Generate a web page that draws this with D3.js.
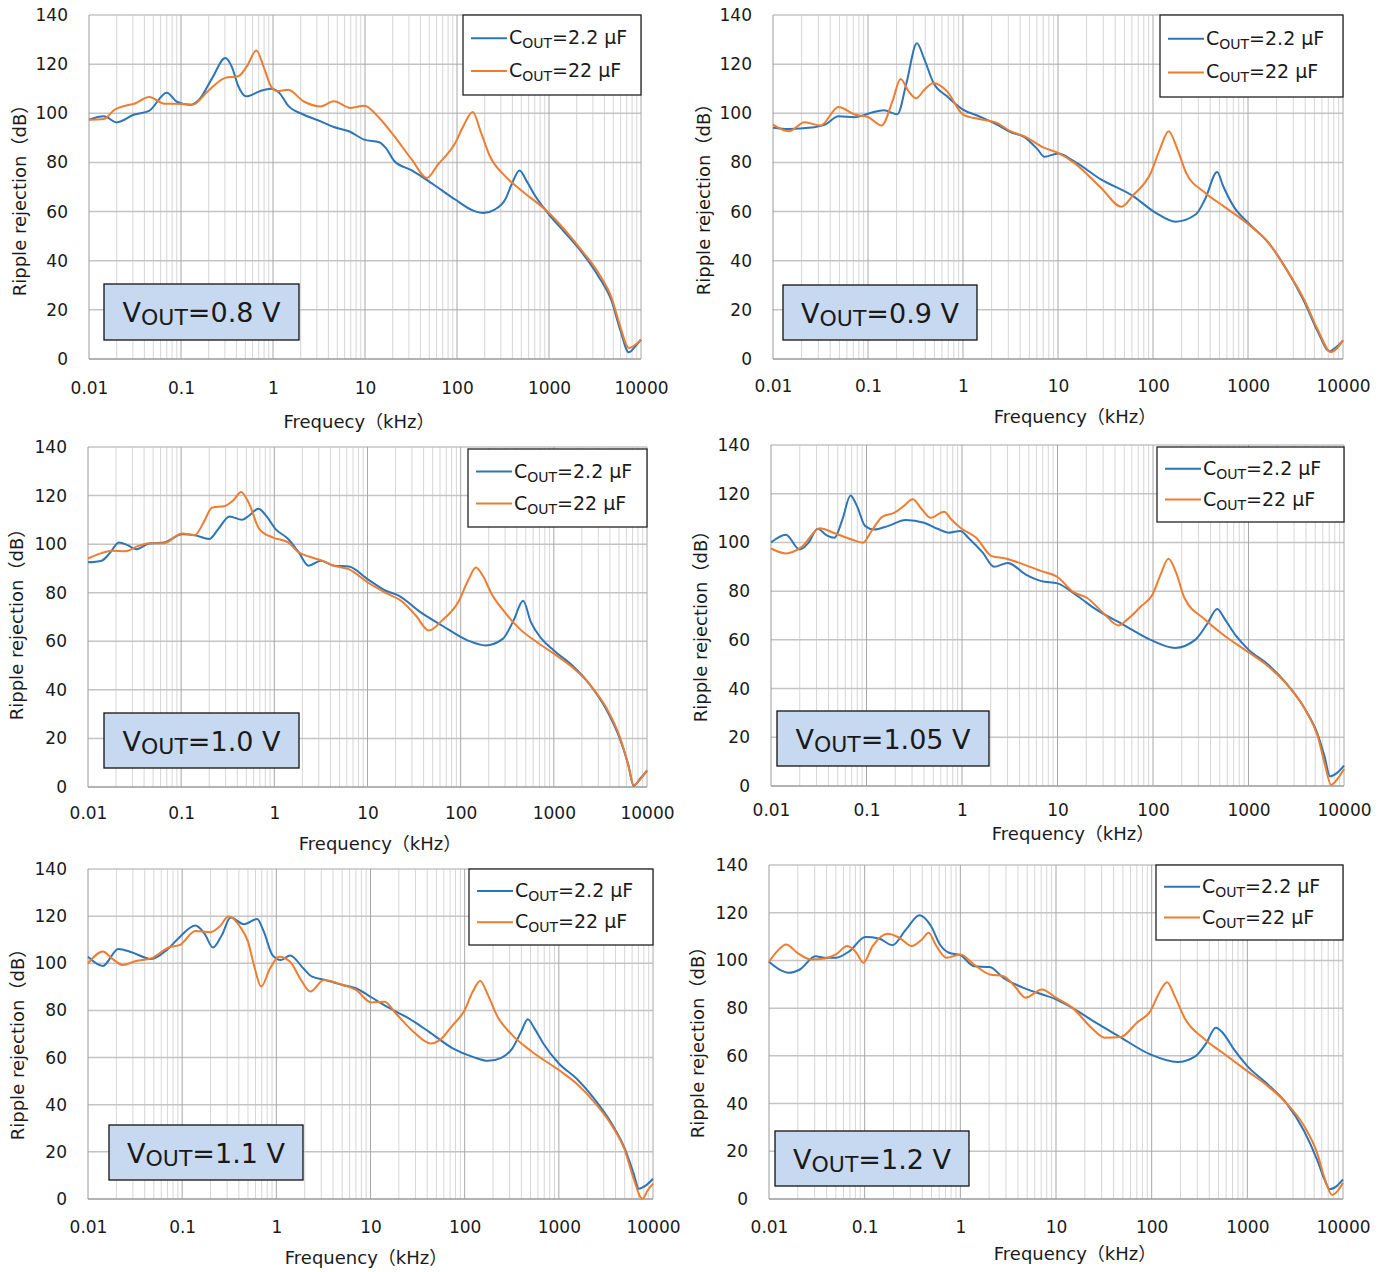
<!DOCTYPE html>
<html>
<head>
<meta charset="utf-8">
<script src="https://cdn.jsdelivr.net/npm/d3@7"></script>
<style>
  body { margin: 0; background: #fff; }
  svg text { font-family: "DejaVu Sans", Verdana, "Noto Sans CJK JP", sans-serif; fill: #1a1a1a; }
</style>
</head>
<body>
<svg width="1390" height="1272"></svg>
<script>
// tick labels
let xTickValues = [0.01, 0.1, 1, 10, 100, 1000, 10000];
let xTickLabels = ['0.01', '0.1', '1', '10', '100', '1000', '10000'];
let yTickValues = [0, 20, 40, 60, 80, 100, 120, 140];
let seriesNames = ['2.2 μF', '22 μF'];

// [frequency kHz, dB]
let v080Blue = [[0.01,97.4],[0.0145,98.8],[0.02,96.3],[0.031,99.5],[0.045,101],[0.07,108.4],[0.091,104.6],[0.127,103.4],[0.158,105.6],[0.219,114.4],[0.303,122.5],[0.356,119],[0.42,111],[0.51,106.9],[0.72,109],[0.95,110],[1.17,108.3],[1.46,103.1],[2.14,99.5],[3.3,96.7],[4.57,94.4],[6.7,92.7],[9.8,89.3],[14.3,88.2],[16.8,85.9],[20.9,80.5],[32.3,76.8],[55.6,71],[95.6,64.9],[148,60.5],[194,59.4],[256,60.8],[334,64.9],[392,71],[478,76.7],[574,72.3],[712,66.2],[1000,58.8],[1446,52],[2230,43.8],[3450,33.6],[4800,23.5],[5940,11.9],[7380,2.7],[8680,5.2],[10000,7.9]];
let v080Orange = [[0.01,97.4],[0.0145,97.7],[0.019,101.5],[0.0249,103.1],[0.031,103.9],[0.045,106.6],[0.066,103.9],[0.102,103.8],[0.134,103.5],[0.196,109],[0.303,114.4],[0.42,115.1],[0.52,119.1],[0.66,125.6],[0.8,118.4],[0.95,111],[1.11,109],[1.46,109.6],[2.14,104.9],[3.3,102.8],[4.57,104.9],[7,102.2],[9.8,103.1],[14.3,98.1],[20.9,90.6],[32.3,81.1],[47,73.7],[62,79.1],[95.6,87.9],[117,94.7],[148,100.5],[183,92],[228,82.5],[334,74.4],[490,68.9],[1000,59.4],[2230,44.5],[3450,35],[4800,24.8],[5940,13.3],[7380,4.5],[8680,5.8],[10000,7.9]];

let v090Blue = [[0.01,94.1],[0.0147,93.6],[0.0254,94.2],[0.0353,95.4],[0.049,98.8],[0.072,98.4],[0.106,100.1],[0.147,101.2],[0.204,99.6],[0.254,112.3],[0.327,128.5],[0.393,121.8],[0.49,112.3],[0.68,106.9],[1,101.5],[1.47,98.8],[2.28,95.4],[3.16,92.3],[4.4,90.4],[6.1,85.3],[7.2,82.3],[10,83.6],[14.7,80.5],[28.3,73.1],[61,66.4],[106,59.6],[173,55.9],[283,58.9],[353,65],[474,76.1],[547,70.4],[719,61.6],[1000,55.5],[1637,47.4],[2530,36.6],[3940,23.1],[5470,10.9],[7200,3.2],[8510,4.9],[10000,7.6]];
let v090Orange = [[0.01,95.4],[0.0147,92.7],[0.0215,96.4],[0.0316,95],[0.049,102.6],[0.072,99.5],[0.1,98.5],[0.139,95],[0.183,105.5],[0.22,114],[0.268,108.9],[0.32,106.1],[0.393,109.6],[0.49,112.3],[0.68,108.9],[1,99.5],[1.47,97.7],[2.28,96.1],[3.16,92.7],[4.4,90.7],[7.2,85.9],[10,83.9],[14.7,79.9],[28.3,69.7],[46.6,62],[61,66.4],[95,75.8],[118,85.3],[146,92.7],[181,85.3],[223,75.8],[353,67.7],[547,62.3],[1000,54.9],[1637,47.4],[2530,36.6],[3940,23.8],[5470,11.6],[7480,2.8],[10000,7.6]];

let v100Blue = [[0.01,92.5],[0.014,93.2],[0.0174,96.6],[0.0214,100.7],[0.0266,99.6],[0.0329,97.9],[0.0453,100.3],[0.066,100.7],[0.102,104.1],[0.14,103.7],[0.2,102.1],[0.25,106.2],[0.33,111.4],[0.45,110],[0.53,111.6],[0.675,114.6],[0.82,111.6],[1.02,106.4],[1.41,102.1],[1.83,96.6],[2.33,91.1],[3.16,93.2],[4.37,91.1],[6.3,90.8],[10,85.6],[15.7,80.8],[21.6,78.8],[36.9,72],[63,66.5],[120,60.3],[184,58.3],[283,61],[369,68.5],[468,76.7],[567,67.9],[741,61],[1000,56.2],[1568,50.1],[2400,42.5],[3700,31.6],[5100,20],[6310,9],[7180,0.5],[8520,3.6],[10000,6.6]];
let v100Orange = [[0.01,94.1],[0.014,96.3],[0.0182,97.3],[0.0251,97.1],[0.0347,99.3],[0.0453,100.4],[0.066,100.4],[0.102,104.4],[0.14,103.7],[0.174,108.9],[0.214,115],[0.295,115.7],[0.366,118.2],[0.44,121.5],[0.53,117.1],[0.69,106.2],[0.97,102.7],[1.41,100.7],[1.83,96.6],[2.4,94.8],[3.16,93.4],[4.37,91.1],[6.3,89.7],[10,84.3],[15.7,79.9],[24,76.1],[33,70.6],[45.5,64.4],[63,68.5],[96,76.7],[120,85],[146,90.4],[173,87],[215,79.5],[297,72],[430,65.1],[660,59.6],[1000,54.9],[1568,49.4],[2400,42.5],[3700,32.3],[5100,20.7],[6310,9],[7180,0.8],[8520,3.3],[10000,7]];

let v105Blue = [[0.01,100],[0.0143,103.2],[0.0199,97.1],[0.0247,99.9],[0.0308,105.6],[0.0383,102.9],[0.0461,101.9],[0.056,109.5],[0.068,119.3],[0.0795,114.9],[0.097,106.7],[0.12,105.3],[0.167,106.7],[0.258,109.2],[0.4,108.1],[0.554,105.6],[0.73,104],[0.96,104.7],[1.19,101.5],[1.65,95.8],[2.17,90],[3.01,91.6],[4.66,86.8],[6.8,84.1],[10,83.2],[16.3,77.9],[25.3,72.5],[48.7,66.3],[93.4,60.1],[170,56.7],[278,60.1],[366,66.3],[471,72.7],[567,68.4],[744,61.5],[1000,56],[1600,49.9],[2470,42.3],[3830,32.1],[5310,21.1],[6250,12.2],[7130,4],[8400,5.3],[10000,8.4]];
let v105Orange = [[0.01,97.5],[0.0143,95.5],[0.021,98.2],[0.0325,105.8],[0.045,104],[0.07,101.2],[0.092,99.9],[0.113,104.7],[0.146,110.5],[0.197,112.2],[0.245,114.9],[0.305,117.7],[0.38,113.6],[0.47,110.1],[0.65,112.6],[0.77,109.5],[0.96,106],[1.41,101.9],[2.05,94.4],[2.86,93.4],[4.4,91],[6.8,88.2],[10,85.8],[14.7,79.6],[20.3,77.3],[30,71.1],[43.6,65.9],[54,68.4],[75,73.8],[99,78.6],[120,86.8],[145,93.3],[175,87.5],[213,77.3],[350,68.4],[540,62.2],[1000,54.9],[1600,49.2],[2470,42.1],[3830,32.1],[5310,20.4],[6250,9.5],[7320,0.5],[8700,3.3],[10000,7]];

let v110Blue = [[0.01,102.8],[0.0144,98.9],[0.021,106.1],[0.029,104.7],[0.047,101.8],[0.0688,105.7],[0.095,111.3],[0.138,116],[0.172,112.7],[0.213,106.7],[0.264,112],[0.327,119.4],[0.453,116.6],[0.625,118.8],[0.735,113.5],[0.91,103.5],[1.12,101.4],[1.4,103.3],[1.93,97.9],[2.4,94.3],[3.31,92.9],[5.08,90.8],[7,89.4],[10,85.8],[14.9,81.6],[25.5,76.6],[41.6,71],[74.8,63.9],[122,60.3],[177,58.6],[245,59.9],[321,63.9],[398,71],[468,76.3],[550,72.4],[684,66],[1000,57.5],[1540,51.1],[2370,42.6],[3640,32],[5020,21.4],[6230,10.8],[7080,4.4],[8420,5.8],[10000,8.6]];
let v110Orange = [[0.01,100],[0.0144,105],[0.0179,102.1],[0.0234,99.3],[0.0323,101],[0.047,102.1],[0.072,106.7],[0.095,107.8],[0.138,113.7],[0.2,113.2],[0.25,115.6],[0.31,119.8],[0.41,115.6],[0.5,109.2],[0.59,97.9],[0.69,90.1],[0.86,97.9],[1.07,102.8],[1.4,100.7],[1.83,92.9],[2.3,88],[3.19,92.9],[5.08,90.8],[7,88.7],[10.2,83.4],[14.1,83.7],[18.5,78.8],[28.5,71],[43.7,66],[54.5,67.4],[74.8,73.8],[98,79.5],[122,88],[146,92.5],[177,86.5],[219,78],[321,69.5],[518,62.5],[1000,54.7],[1540,49],[2370,41.2],[3640,31.3],[5020,20.7],[6230,8.6],[7700,0.1],[8800,3.7],[10000,6.5]];

let v120Blue = [[0.01,99.4],[0.0128,96.2],[0.016,94.8],[0.021,96.2],[0.0307,101.8],[0.038,101.1],[0.05,101.1],[0.0695,103.9],[0.1016,109.8],[0.141,109.2],[0.195,106.4],[0.271,113],[0.375,118.9],[0.493,114.4],[0.612,106.7],[0.762,103.2],[1,102.2],[1.39,97.6],[2.03,97.2],[2.82,92.7],[4.59,88.5],[7.1,85.8],[10,83.7],[15.1,79.9],[26.1,73.9],[45,68.3],[96.8,60.6],[186,57.4],[288,59.9],[365,64.8],[469,71.8],[552,69.7],[725,62.7],[1000,55.7],[1640,48],[2530,40.4],[3920,28.5],[5430,15.9],[6400,8.2],[7290,4.1],[8590,5.4],[10000,8.2]];
let v120Orange = [[0.01,99.4],[0.0122,103.9],[0.0151,106.7],[0.0198,103.2],[0.0275,100.4],[0.038,100.8],[0.05,102.5],[0.0658,106],[0.082,103.2],[0.097,99],[0.121,106],[0.175,111.2],[0.23,109.5],[0.31,106],[0.397,108.8],[0.467,111.6],[0.55,106.7],[0.72,101.1],[1,102.5],[1.39,98.3],[2.03,94.1],[2.82,93.4],[3.7,89.2],[4.8,84.4],[7.1,87.8],[10,84.4],[15.1,79.9],[23.4,71.8],[32.5,67.6],[47.6,67.9],[70,73.9],[97,78.8],[120,86.5],[145,90.9],[177,84.4],[220,76],[360,66.9],[552,61.3],[1000,53.6],[1640,47.3],[2530,40.4],[3920,30.6],[5430,18.7],[6400,8.9],[7700,1.7],[8800,3.4],[10000,6.8]];

// panel layout
let panels = [
  { vout: '0.8', blue: v080Blue, orange: v080Orange, xTitle: 'Frequecy（kHz）',
    l: 89, r: 641, t: 15, b: 359, leg: [463, 15, 641, 95], box: [104, 284, 299, 340],
    xt: 422, xc: 359, yt: 20, yc: 196, xl: 388 },
  { vout: '0.9', blue: v090Blue, orange: v090Orange, xTitle: 'Frequency（kHz）',
    l: 773, r: 1343, t: 15, b: 359, leg: [1160, 15, 1343, 97], box: [783, 285, 977, 340],
    xt: 417, xc: 1075, yt: 704, yc: 195, xl: 386 },
  { vout: '1.0', blue: v100Blue, orange: v100Orange, xTitle: 'Frequency（kHz）',
    l: 88, r: 647, t: 447, b: 787, leg: [468, 449, 647, 527], box: [104, 713, 299, 768],
    xt: 844, xc: 380, yt: 17, yc: 620, xl: 813 },
  { vout: '1.05', blue: v105Blue, orange: v105Orange, xTitle: 'Frequency（kHz）',
    l: 771, r: 1344, t: 445, b: 786, leg: [1157, 447, 1344, 522], box: [777, 711, 989, 766],
    xt: 834, xc: 1073, yt: 701, yc: 622, xl: 810 },
  { vout: '1.1', blue: v110Blue, orange: v110Orange, xTitle: 'Frequency（kHz）',
    l: 88, r: 653, t: 869, b: 1199, leg: [469, 869, 653, 945], box: [109, 1125, 303, 1180],
    xt: 1258, xc: 366, yt: 18, yc: 1040, xl: 1227 },
  { vout: '1.2', blue: v120Blue, orange: v120Orange, xTitle: 'Frequency（kHz）',
    l: 769, r: 1343, t: 865, b: 1199, leg: [1156, 865, 1343, 940], box: [775, 1131, 969, 1186],
    xt: 1254, xc: 1075, yt: 698, yc: 1038, xl: 1227 }
];

let colors = ['#2E75B6', '#ED7D31'];
let svg = d3.select('svg');

panels.forEach((p) => {
  let x = d3.scaleLog().domain([0.01, 10000]).range([p.l, p.r]);
  let y = d3.scaleLinear().domain([0, 140]).range([p.b, p.t]);
  let g = svg.append('g');

  // vertical grid: minor then decades
  let minor = x.ticks().filter((d) => !xTickValues.some((v) => Math.abs(v - d) / v < 1e-6));
  g.selectAll('.minor').data(minor).enter().append('line')
      .attr('x1', (d) => x(d)).attr('x2', (d) => x(d))
      .attr('y1', p.t).attr('y2', p.b)
      .attr('stroke', '#d6d6d6').attr('stroke-width', 1);
  g.selectAll('.hgrid').data(yTickValues).enter().append('line')
      .attr('x1', p.l).attr('x2', p.r)
      .attr('y1', (d) => y(d)).attr('y2', (d) => y(d))
      .attr('stroke', (d) => d === 0 ? '#9a9a9a' : '#c4c4c4').attr('stroke-width', 1.5);
  g.selectAll('.major').data(xTickValues).enter().append('line')
      .attr('x1', (d) => x(d)).attr('x2', (d) => x(d))
      .attr('y1', p.t).attr('y2', p.b)
      .attr('stroke', (d) => d === 0.01 ? '#9a9a9a' : '#a8a8a8').attr('stroke-width', 1);

  // axes labels
  let xAxis = d3.axisBottom(x).tickValues(xTickValues).tickSize(0)
      .tickFormat((d, i) => xTickLabels[i]);
  g.append('g').attr('transform', `translate(0, ${p.xl - 9})`).call(xAxis)
      .call((a) => a.select('.domain').remove())
      .selectAll('text').style('font-size', '17px').style('fill', '#1a1a1a');
  let yAxis = d3.axisLeft(y).tickValues(yTickValues).tickSize(0);
  g.append('g').attr('transform', `translate(${p.l - 18}, 0)`).call(yAxis)
      .call((a) => a.select('.domain').remove())
      .selectAll('text').style('font-size', '17px').style('fill', '#1a1a1a');

  g.append('text')
      .attr('x', p.xc).attr('y', p.xt + 6)
      .attr('text-anchor', 'middle').style('font-size', '18px')
      .text(p.xTitle);
  g.append('text')
      .attr('transform', `translate(${p.yt + 6}, ${p.yc}) rotate(-90)`)
      .attr('text-anchor', 'middle').style('font-size', '18px')
      .text('Ripple rejection（dB）');

  // curves
  let line = d3.line()
      .x((d) => x(d[0]))
      .y((d) => y(d[1]))
      .curve(d3.curveMonotoneX);
  [p.blue, p.orange].forEach((s, i) => {
    g.append('path').datum(s)
        .attr('d', line)
        .attr('fill', 'none')
        .attr('stroke', colors[i])
        .attr('stroke-width', 2);
  });

  // legend
  let [lx0, ly0, lx1, ly1] = p.leg;
  let lh = ly1 - ly0;
  g.append('rect').attr('x', lx0).attr('y', ly0)
      .attr('width', lx1 - lx0).attr('height', lh)
      .attr('fill', '#fff').attr('stroke', '#222').attr('stroke-width', 1.3);
  seriesNames.forEach((name, i) => {
    let ly = ly0 + lh * (i === 0 ? 0.29 : 0.70);
    g.append('line')
        .attr('x1', lx0 + 8).attr('x2', lx0 + 44)
        .attr('y1', ly).attr('y2', ly)
        .attr('stroke', colors[i]).attr('stroke-width', 2);
    let t = g.append('text').attr('x', lx0 + 46).attr('y', ly + 6).style('font-size', '19px');
    t.append('tspan').text('C');
    t.append('tspan').attr('dy', 4).style('font-size', '14px').text('OUT');
    t.append('tspan').attr('dy', -4).text('=' + name);
  });

  // VOUT label box
  let [bx0, by0, bx1, by1] = p.box;
  g.append('rect').attr('x', bx0).attr('y', by0)
      .attr('width', bx1 - bx0).attr('height', by1 - by0)
      .attr('fill', '#C6D9F1').attr('stroke', '#111').attr('stroke-width', 1.3);
  let bt = g.append('text')
      .attr('x', (bx0 + bx1) / 2).attr('y', (by0 + by1) / 2 + 10)
      .attr('text-anchor', 'middle').style('font-size', '27px');
  bt.append('tspan').text('V');
  bt.append('tspan').attr('dy', 3).style('font-size', '22px').text('OUT');
  bt.append('tspan').attr('dy', -3).text('=' + p.vout + ' V');
});
</script>
</body>
</html>
